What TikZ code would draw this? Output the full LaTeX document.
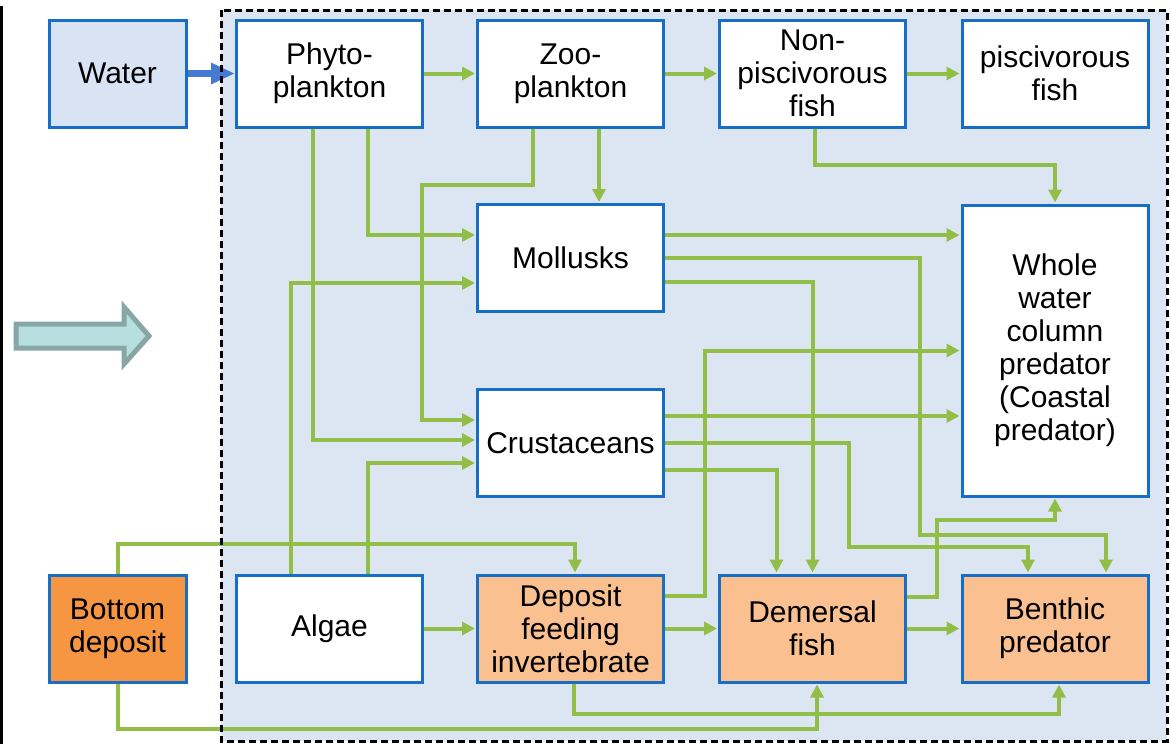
\documentclass[tikz,border=0pt]{standalone}
\usepackage{fontspec}
\setmainfont{Liberation Sans}
\usetikzlibrary{arrows.meta}
\definecolor{boxblue}{RGB}{22,110,198}
\definecolor{bgblue}{RGB}{220,230,242}
\definecolor{waterfill}{RGB}{216,228,243}
\definecolor{darkorange}{RGB}{246,150,66}
\definecolor{lightorange}{RGB}{250,192,144}
\definecolor{grn}{RGB}{146,190,72}
\definecolor{arrowblue}{RGB}{70,122,210}
\definecolor{bigfill}{RGB}{184,223,224}
\definecolor{bigedge}{RGB}{137,166,166}
\begin{document}
\begin{tikzpicture}[x=1pt,y=-1pt,
  boxn/.style={draw=boxblue, line width=3pt, fill=white, minimum width=186pt,
    minimum height=107pt, inner sep=2pt, align=center,
    font=\fontsize{30}{33}\selectfont},
  sideboxn/.style={boxn, minimum width=137pt},
  flow/.style={draw=grn, line width=4pt, shorten >=1pt,
    -{Triangle[length=13pt,width=13pt]}},
  ]
\useasboundingbox (0,0) rectangle (1170,744);
% background region
\fill[bgblue] (221,10) rectangle (1167,741);
% left black line
\draw[line width=3pt] (1.5,6) -- (1.5,744);
% big arrow
\filldraw[fill=bigfill, draw=bigedge, line width=5pt, line join=miter]
  (16,324) -- (124,324) -- (124,307) -- (149,336) -- (124,364) -- (124,348) -- (16,348) -- cycle;
% nodes
\node[sideboxn, fill=waterfill] (water) at (117.5,73.5) {Water};
\node[boxn] (phyto) at (329.5,73.5) {Phyto-\\plankton};
\node[boxn] (zoo) at (570.5,73.5) {Zoo-\\plankton};
\node[boxn] (nonpisc) at (812.5,73.5) {Non-\\piscivorous\\fish};
\node[boxn] (pisc) at (1055,73.5) {piscivorous\\fish};
\node[boxn] (moll) at (570.5,258) {Mollusks};
\node[boxn] (crust) at (570.5,443) {Crustaceans};
\node[boxn, minimum height=291pt] (whole) at (1055,350.5) {Whole\\water\\column\\predator\\(Coastal\\predator)};
\node[sideboxn, fill=darkorange] (bottom) at (117.5,628.5) {Bottom\\deposit};
\node[boxn] (algae) at (329.5,628.5) {Algae};
\node[boxn, fill=lightorange] (deposit) at (570.5,628.5) {Deposit\\feeding\\invertebrate};
\node[boxn, fill=lightorange] (demersal) at (812.5,628.5) {Demersal\\fish};
\node[boxn, fill=lightorange] (benthic) at (1055,628.5) {Benthic\\predator};
% water arrow
\draw[line width=7pt, arrowblue, -{Triangle[length=24pt,width=20pt]}] (water.east) -- (phyto.west);
% green connectors
\draw[flow] (phyto.east) -- (zoo.west);
\draw[flow] (zoo.east) -- (nonpisc.west);
\draw[flow] (nonpisc.east) -- (pisc.west);
\draw[flow] (algae.east) -- (deposit.west);
\draw[flow] (deposit.east) -- (demersal.west);
\draw[flow] (demersal.east) -- (benthic.west);
\draw[flow] ([xshift=2pt]nonpisc.south) |- ([yshift=39pt]whole.north) -- (whole.north);
\draw[flow] ([xshift=28.5pt]zoo.south) -- ([xshift=28.5pt]moll.north);
\draw[flow] ([xshift=-38pt]zoo.south) -- ++(0,56) -- ++(-110.5,0) |- ([yshift=23pt]crust.west);
\draw[flow] ([xshift=38.5pt]phyto.south) |- ([yshift=23pt]moll.west);
\draw[flow] ([xshift=-16.5pt]phyto.south) |- ([yshift=3pt]crust.west);
\draw[flow] ([xshift=-38.5pt]algae.north) |- ([yshift=-25pt]moll.west);
\draw[flow] ([xshift=38.5pt]algae.north) |- ([yshift=-20pt]crust.west);
\draw[flow] (bottom.north) -- ++(0,-30) -| ([xshift=4.5pt]deposit.north);
\draw[flow] (bottom.south) -- ++(0,45) -| ([xshift=4.5pt]demersal.south);
\draw[flow] ([xshift=3.5pt]deposit.south) -- ++(0,30) -| ([xshift=4pt]benthic.south);
\draw[flow] ([yshift=23pt]moll.east) -- ([yshift=115.5pt]whole.west);
\draw[flow] (moll.east) -- ++(254.5,0) -- ++(0,277) -| ([xshift=51pt]benthic.north);
\draw[flow] ([yshift=-24pt]moll.east) -| (demersal.north);
\draw[flow] ([yshift=27pt]crust.east) -- ([yshift=-65.5pt]whole.west);
\draw[flow] (crust.east) -- ++(183.5,0) -- ++(0,104) -| ([xshift=-27pt]benthic.north);
\draw[flow] ([yshift=-27pt]crust.east) -| ([xshift=-36pt]demersal.north);
\draw[flow] ([yshift=33pt]deposit.east) -- ++(40,0) |- (whole.west);
\draw[flow] ([yshift=31.5pt]demersal.east) -- ++(30,0) -- ++(0,-77.5) -| (whole.south);
% dashed border
\draw[line width=3pt, dash pattern=on 7pt off 4pt] (221,10) rectangle (1167,741);
\end{tikzpicture}
\end{document}
